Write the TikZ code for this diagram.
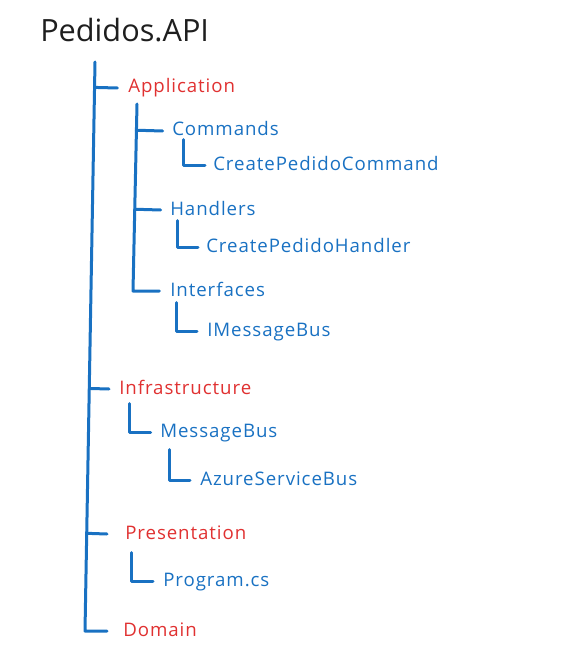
\documentclass[tikz,border=0pt]{standalone}
\usepackage{fontspec}
\setmainfont{Open Sans}
\newfontfamily\sketchfont{Open Sans}[LetterSpace=5]
\usetikzlibrary{calc}
\definecolor{pedred}{HTML}{E03131}
\definecolor{pedblue}{HTML}{1971C2}
\definecolor{pedink}{HTML}{1E1E1E}

\begin{document}
\begin{tikzpicture}[x=0.75pt, y=-0.75pt,
    item/.style={anchor=base west, inner sep=0pt, text height=10pt, text depth=2.5pt,
      font=\sketchfont\fontsize{14}{16}\selectfont},
    layer/.style={item, text=pedred},
    entry/.style={item, text=pedblue},
    tree/.style={draw=pedblue, line width=2.25pt, line cap=round, line join=round}]
      \useasboundingbox (0,0) rectangle (576,659);

      % Корінь проєкту
      \node[anchor=base west, inner sep=0pt, text=pedink, font=\fontsize{23}{26}\selectfont]
        (root) at (40,42) {Pedidos.API};

      % Шари (червоні)
      \node[layer] (app) at (128,93) {Application};
      \node[layer] (infra) at (119,394) {Infrastructure};
      \node[layer] (pres) at (125,539) {Presentation};
      \node[layer] (dom) at (123,636) {Domain};

      % Вміст Application
      \node[entry] (cmds) at (172,136) {Commands};
      \node[entry] (cmdfile) at (213,171) {CreatePedidoCommand};
      \node[entry] (hnd) at (170,215) {Handlers};
      \node[entry] (hndfile) at (206,252) {CreatePedidoHandler};
      \node[entry] (ifc) at (170,296) {Interfaces};
      \node[entry] (ifcfile) at (207,336) {IMessageBus};

      % Вміст Infrastructure та Presentation
      \node[entry] (bus) at (160,437) {MessageBus};
      \node[entry] (busfile) at (200,485) {AzureServiceBus};
      \node[entry] (prog) at (163,586) {Program.cs};

      % Головна вертикаль: від кореня до Domain
      \coordinate (r0) at (95,62);
      \coordinate (r1) at (85,631);
      \draw[tree] (r0) -- (r1) -- ([xshift=-12pt]dom.west);
      \draw[tree] ($(r0)!(app.west)!(r1)$) -- ([xshift=-8pt]app.west);
      \draw[tree] ($(r0)!(infra.west)!(r1)$) -- ([xshift=-7.5pt]infra.west);
      \draw[tree] ($(r0)!(pres.west)!(r1)$) -- ([xshift=-13.5pt]pres.west);

      % Вертикаль Application: Commands, Handlers, Interfaces
      \coordinate (a0) at (137,104);
      \coordinate (a1) at (133,291);
      \draw[tree] (a0) -- (a1) -- ([xshift=-8pt]ifc.west);
      \draw[tree] ($(a0)!(cmds.west)!(a1)$) -- ([xshift=-7pt]cmds.west);
      \draw[tree] ($(a0)!(hnd.west)!(a1)$) -- ([xshift=-7pt]hnd.west);

      % Кутові з'єднання до файлів
      \draw[tree] ([shift={(11,0)}]cmds.south west) |- ([xshift=-6pt]cmdfile.west);
      \draw[tree] ([shift={(7,2)}]hnd.south west) |- ([xshift=-6pt]hndfile.west);
      \draw[tree] ([shift={(6,3)}]ifc.south west) |- ([xshift=-7.5pt]ifcfile.west);
      \draw[tree] ([shift={(10,6)}]infra.south west) |- ([xshift=-7pt]bus.west);
      \draw[tree] ([shift={(9,9)}]bus.south west) |- ([xshift=-7.5pt]busfile.west);
      \draw[tree] ([shift={(6,10)}]pres.south west) |- ([xshift=-7.5pt]prog.west);
    \end{tikzpicture}
\end{document}
